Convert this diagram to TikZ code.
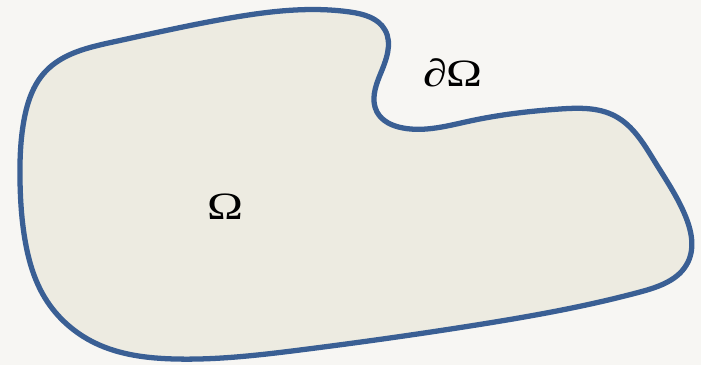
\documentclass[tikz,border=0pt]{standalone}
\usepackage{fontspec}
\setmainfont{Liberation Serif}
\usetikzlibrary{hobby}
\definecolor{bgcol}{HTML}{F7F6F3}
\definecolor{fillcol}{HTML}{EDEBE1}
\definecolor{rimcol}{HTML}{3A5F94}

\begin{document}
\begin{tikzpicture}[x=0.02cm, y=-0.02cm]
  % canvas 701 x 365, y downwards
  \fill[bgcol] (0,0) rectangle (701,365);
  \useasboundingbox (0,0) rectangle (701,365);
  % domain with notch at top right
  \draw[rimcol, fill=fillcol, line width=3pt]
    plot[closed hobby] coordinates {
      (20,180) (24,120) (45,72) (113,42) (230,18) (350,12) (385,30)
      (380,75) (377,112) (403,128) (470,121) (560,109) (615,116)
      (655,162) (685,215) (688,262) (640,292) (470,326) (300,350)
      (175,359) (95,343) (45,298) (25,240)};
  \node[font=\fontsize{22}{26}\selectfont, xscale=1.25] (om) at (225,207) {Ω};
  \node[font=\fontsize{22}{26}\selectfont, xscale=1.25] (bd) at (453,73) {∂Ω};
\end{tikzpicture}
\end{document}
